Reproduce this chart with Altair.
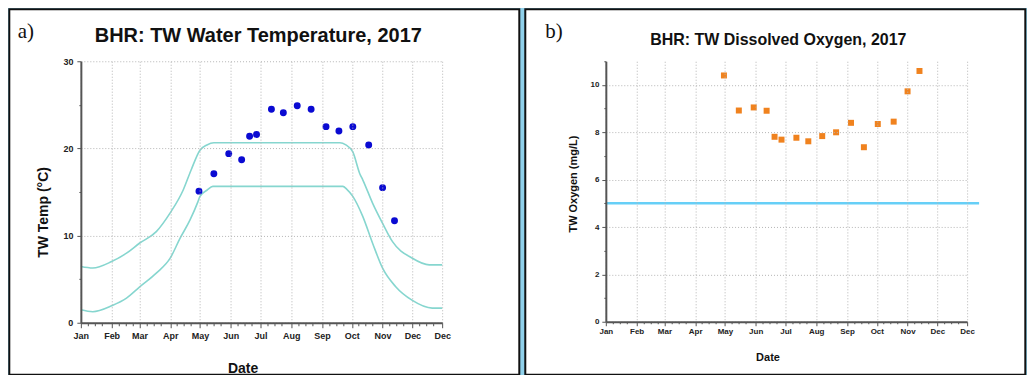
import altair as alt
import pandas as pd

# ---------------- data ----------------
sample_dates = ["2017-04-30", "2017-05-15", "2017-05-30", "2017-06-12", "2017-06-20",
                "2017-06-27", "2017-07-12", "2017-07-24", "2017-08-07", "2017-08-21",
                "2017-09-05", "2017-09-18", "2017-10-02", "2017-10-18", "2017-11-01",
                "2017-11-13"]
water_temp = [15.1, 17.1, 19.4, 18.7, 21.4, 21.6, 24.5, 24.1, 24.9, 24.5,
              22.5, 22.0, 22.5, 20.4, 15.5, 11.7]
dissolved_oxygen = [10.4, 8.92, 9.05, 8.91, 7.81, 7.69, 7.77, 7.62, 7.84, 8.0,
                    8.4, 7.37, 8.35, 8.45, 9.73, 10.59]

upper_dates = ["2017-01-01", "2017-01-13", "2017-02-01", "2017-02-16", "2017-03-01",
               "2017-03-18", "2017-04-01", "2017-04-14", "2017-04-22", "2017-05-01",
               "2017-05-08", "2017-05-15", "2017-09-19", "2017-09-25", "2017-10-02",
               "2017-10-09", "2017-10-12", "2017-10-22", "2017-11-01", "2017-11-11",
               "2017-12-01", "2017-12-18", "2017-12-31"]
upper_temp = [6.45, 6.28, 7.02, 7.98, 9.12, 10.45, 12.6, 15.2, 17.5, 19.8,
              20.4, 20.65, 20.65, 20.4, 19.6, 17.1, 16.4, 13.7, 11.4, 9.3,
              7.4, 6.64, 6.64]
lower_dates = ["2017-01-01", "2017-01-13", "2017-02-01", "2017-02-16", "2017-03-01",
               "2017-03-18", "2017-04-01", "2017-04-11", "2017-04-21", "2017-04-29",
               "2017-05-01", "2017-05-08", "2017-05-14", "2017-09-22", "2017-09-26",
               "2017-10-02", "2017-10-12", "2017-10-22", "2017-11-01", "2017-11-14",
               "2017-12-01", "2017-12-21", "2017-12-31"]
lower_temp = [1.49, 1.27, 1.95, 2.83, 4.09, 5.69, 7.41, 9.7, 11.8, 13.9,
              14.5, 15.2, 15.65, 15.65, 15.3, 14.5, 12.2, 9.1, 6.26, 4.16,
              2.56, 1.68, 1.68]
do_standard = [5]

temp_title = "BHR: TW Water Temperature, 2017"
oxy_title = "BHR: TW Dissolved Oxygen, 2017"
temp_ytitle = "TW Temp (°C)"
oxy_ytitle = "TW Oxygen (mg/L)"

# ---------------- tables ----------------
pts = pd.DataFrame({"date": [d + "T00:00:00" for d in sample_dates],
                    "temp": water_temp, "oxy": dissolved_oxygen})
curves = pd.DataFrame({
    "date": [d + "T00:00:00" for d in upper_dates + lower_dates],
    "temp": upper_temp + lower_temp,
    "limit": ["upper"] * len(upper_dates) + ["lower"] * len(lower_dates),
})
std = pd.DataFrame({"standard": do_standard})
one = pd.DataFrame({"k": [0]})

FONT = "Liberation Sans"
SERIF = "Liberation Serif"


def dt(m, d):
    return alt.DateTime(year=2017, month=m, date=d)


major = [(m, 1) for m in range(1, 13)] + [(12, 31)]
minor = [(m, d) for m in range(1, 13) for d in (8, 15, 22)]
x_values = [dt(m, d) for m, d in major + minor]
x_scale = alt.Scale(domain=[dt(1, 1), dt(12, 31)])
MAJOR_X = "date(datum.value) == 1 || (month(datum.value) == 11 && date(datum.value) == 31)"


def x_axis(label_size, title_size, title_x, title_y, tmaj, tmin, pad):
    return alt.Axis(
        values=x_values,
        labelExpr=f"({MAJOR_X}) ? timeFormat(datum.value, '%b') : ''",
        labelOverlap=False, labelFlush=False, labelFontSize=label_size,
        labelFont=FONT, labelFontWeight="bold", labelColor="#222", labelPadding=pad,
        grid=True, gridColor="#b5b5b5", gridDash=[1, 2], gridWidth=1,
        gridOpacity={"condition": {"test": MAJOR_X, "value": 1}, "value": 0},
        tickSize={"condition": {"test": MAJOR_X, "value": tmaj}, "value": tmin},
        tickColor="#555", domainColor="#555", domainWidth=2,
        title="Date", titleFont=FONT, titleFontSize=title_size, titleFontWeight="bold",
        titleColor="#111", titleX=title_x, titleY=title_y, titleAlign="center",
        titleBaseline="top", zindex=1,
    )


def y_axis(values, major_test, title, label_size, title_size, title_x, title_y, pad):
    return alt.Axis(
        values=values,
        labelExpr=f"({major_test}) ? datum.label : ''",
        labelFontSize=label_size, labelFont=FONT, labelFontWeight="bold",
        labelColor="#222", labelPadding=pad,
        grid=True, gridColor="#b5b5b5", gridDash=[1, 2], gridWidth=1,
        gridOpacity={"condition": {"test": major_test, "value": 1}, "value": 0},
        tickSize={"condition": {"test": major_test, "value": 4}, "value": 2},
        tickColor="#555", domainColor="#555", domainWidth=2,
        title=title, titleFont=FONT, titleFontSize=title_size, titleFontWeight="bold",
        titleColor="#111", titleX=title_x, titleY=title_y, titleAlign="center",
        titleBaseline="alphabetic", zindex=1,
    )


def frame(x1, x2, y1, y2):
    return alt.Chart(one).mark_rect(fill="white", stroke="#111", strokeWidth=2).encode(
        x=alt.value(x1), x2=alt.value(x2), y=alt.value(y1), y2=alt.value(y2))


def label(txt, x, y, size, font, weight="normal", align="left"):
    return alt.Chart(one).mark_text(text=txt, font=font, fontSize=size, fontWeight=weight,
                                    align=align, baseline="alphabetic", color="#111").encode(
        x=alt.value(x), y=alt.value(y))


# ---------------- panel a ----------------
LW, LH = 362, 262
xa_l = x_axis(9, 14, 162, 39, 5, 3, 4)
ya_l = y_axis(list(range(0, 31, 5)), "datum.value % 10 == 0", temp_ytitle, 9, 14, -33.7, 151, 4)
ys_l = alt.Scale(domain=[0, 30])

lines = alt.Chart(curves).mark_line(color="#86d6cf", strokeWidth=1.6, interpolate="monotone").encode(
    x=alt.X("date:T", scale=x_scale, axis=xa_l),
    y=alt.Y("temp:Q", scale=ys_l, axis=ya_l),
    detail="limit:N",
)
temp_pts = alt.Chart(pts).mark_circle(size=48, color="#0a0ad2", opacity=1).encode(
    x=alt.X("date:T", scale=x_scale, axis=xa_l),
    y=alt.Y("temp:Q", scale=ys_l, axis=ya_l),
)
left = alt.layer(
    frame(-71.7, 439.3, -52, 314),
    label("a)", -63.2, -23, 21, SERIF),
    label(temp_title, 177.8, -19.5, 20, FONT, "bold", "center"),
    lines, temp_pts,
).properties(width=LW, height=LH)

# ---------------- panel b ----------------
RW, RH = 362, 261
xa_r = x_axis(8, 11, 162, 30, 4, 2, 2)
ya_r = y_axis(list(range(0, 12)), "datum.value % 2 == 0", oxy_ytitle, 8, 11, -29.3, 122.6, 3)
ys_r = alt.Scale(domain=[0, 11])

oxy_pts = alt.Chart(pts).mark_square(size=36, color="#f0821e", opacity=1).encode(
    x=alt.X("date:T", scale=x_scale, axis=xa_r),
    y=alt.Y("oxy:Q", scale=ys_r, axis=ya_r),
)
std_line = alt.Chart(std).mark_rule(color="#66cff7", strokeWidth=2.5).encode(
    y=alt.Y("standard:Q", scale=ys_r, axis=ya_r),
    x=alt.value(0), x2=alt.value(374),
)
right = alt.layer(
    frame(-80.7, 420.3, -52, 314),
    label("b)", -60.7, -23, 21, SERIF),
    label(oxy_title, 172.8, -16, 16, FONT, "bold", "center"),
    std_line, oxy_pts,
).properties(width=RW, height=RH)

chart = alt.hconcat(left, right, spacing=3).properties(padding=0).configure(
    background="#8fd0ea"
).configure_view(strokeWidth=0)

chart.save("out.html", embed_options={"renderer": "svg", "actions": False})
